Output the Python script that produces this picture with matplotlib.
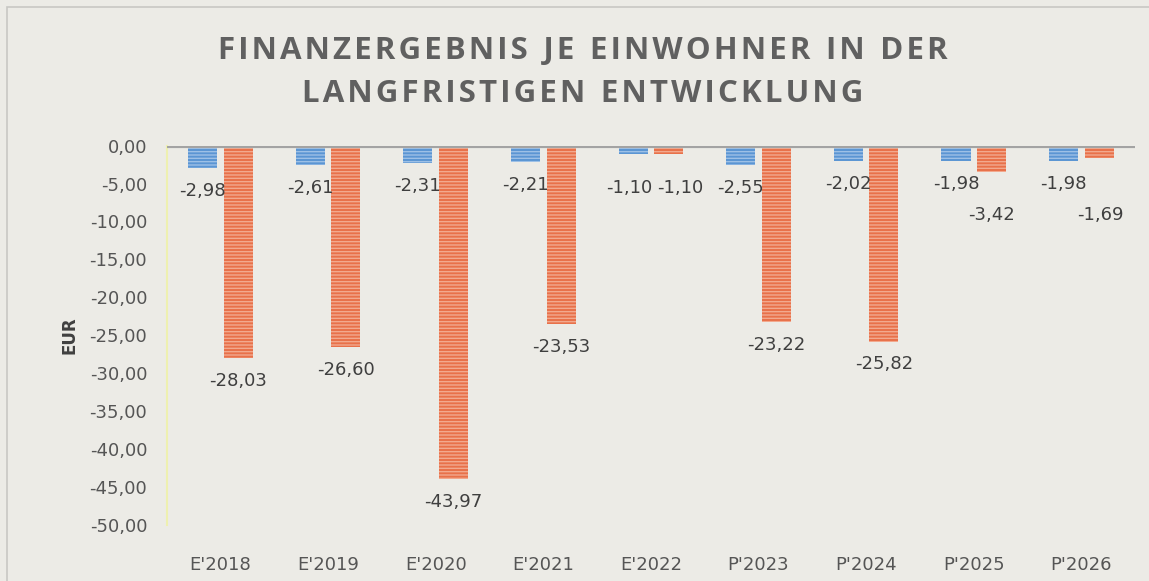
import matplotlib.pyplot as plt
import numpy as np
from matplotlib.patches import Rectangle

# data
categories = ["E'2018", "E'2019", "E'2020", "E'2021", "E'2022",
              "P'2023", "P'2024", "P'2025", "P'2026"]
series_a = [-2.98, -2.61, -2.31, -2.21, -1.10, -2.55, -2.02, -1.98, -1.98]
series_b = [-28.03, -26.60, -43.97, -23.53, -1.10, -23.22, -25.82, -3.42, -1.69]
yticks = np.arange(0, -55, -5)

plt.rcParams['font.family'] = ['DejaVu Sans']
plt.rcParams['hatch.linewidth'] = 1.0

bg = '#ecebe6'
fig = plt.figure(figsize=(11.49, 5.81), dpi=100, facecolor=bg)
ax = fig.add_axes([0.145, 0.0964, 0.843, 0.653])
ax.set_facecolor(bg)

x = np.arange(len(categories))
w = 0.27
ax.bar(x - 0.165, series_a, w, color='#5b95d3', edgecolor='#9dc0e6',
       hatch='-----', linewidth=0, zorder=2)
ax.bar(x + 0.165, series_b, w, color='#e8714a', edgecolor='#f2a98e',
       hatch='-----', linewidth=0, zorder=2)

def fmt(v):
    return f"{v:.2f}".replace('.', ',')

# label nudges (points) where excel moved labels to avoid overlap
dy_a = [0, 0, 0, 0, -8, 0, 0, 0, 0]
dx_a = [0, 0, 0, 0, -3, 0, 0, 0, 0]
dy_b = [0, 0, 0, 0, -8, 0, 0, -15, -24]
dx_b = [0, 0, 0, 0, 8, 0, 0, 0, 1]
for i in range(len(categories)):
    ax.annotate(fmt(series_a[i]), (x[i] - 0.165, series_a[i]),
                xytext=(dx_a[i], -10 + dy_a[i]), textcoords='offset points',
                ha='center', va='top', fontsize=13, color='#3f3f3f', zorder=3)
    ax.annotate(fmt(series_b[i]), (x[i] + 0.165, series_b[i]),
                xytext=(dx_b[i], -10 + dy_b[i]), textcoords='offset points',
                ha='center', va='top', fontsize=13, color='#3f3f3f', zorder=3)

ax.axhline(0, color='#a3a3a3', linewidth=3, zorder=3)
ax.set_xlim(-0.5, len(categories) - 0.5)
ax.set_ylim(-50, 0)
ax.set_yticks(yticks)
ax.set_yticklabels([fmt(v) for v in yticks], fontsize=13, color='#555555')
ax.set_xticks(x)
ax.set_xticklabels(categories, fontsize=13, color='#555555')
ax.tick_params(axis='both', length=0)
ax.tick_params(axis='x', pad=22)
ax.tick_params(axis='y', pad=14)
for s in ['top', 'right', 'bottom']:
    ax.spines[s].set_visible(False)
ax.spines['left'].set_color('#eef0b0')
ax.spines['left'].set_linewidth(1.5)
ax.set_ylabel('EUR', fontsize=12, fontweight='bold', color='#404040', labelpad=8)

def spaced(s):
    return '\u200a'.join(s).replace('\u200a \u200a', '\u2002')

fig.text(0.507, 0.912, spaced('FINANZERGEBNIS JE EINWOHNER IN DER'),
         ha='center', va='center', fontsize=22.5, fontweight='bold', color='#606060',
         family=['Open Sans', 'DejaVu Sans'])
fig.text(0.507, 0.838, spaced('LANGFRISTIGEN ENTWICKLUNG'),
         ha='center', va='center', fontsize=22.5, fontweight='bold', color='#606060',
         family=['Open Sans', 'DejaVu Sans'])

fig.patches.append(Rectangle((0.006, -0.1), 1.2, 1.088, transform=fig.transFigure,
                             fill=False, edgecolor='#c8c8c4', linewidth=1.2))

fig.savefig('out.png', dpi=100, facecolor=bg)
